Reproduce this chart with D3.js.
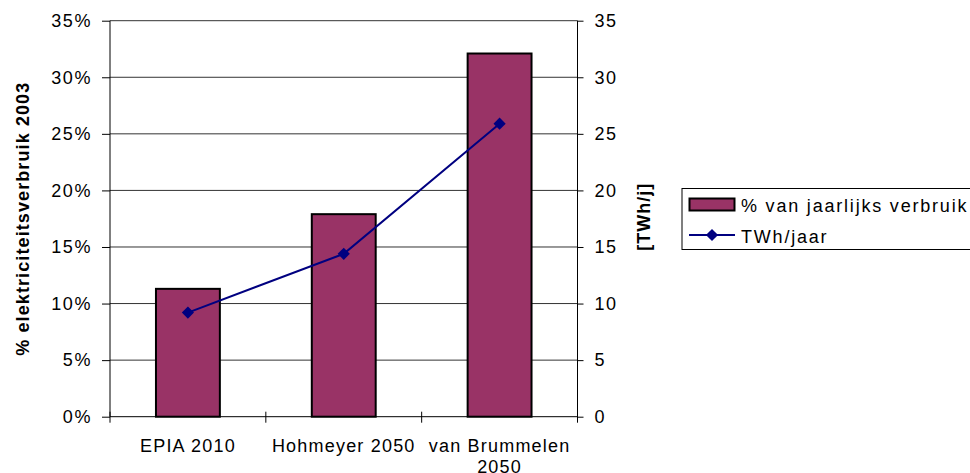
<!DOCTYPE html>
<html>
<head>
<meta charset="utf-8">
<script src="https://cdn.jsdelivr.net/npm/d3@7"></script>
<style>
  body { margin: 0; background: #fff; }
  text { font-family: "Liberation Sans", Arial, sans-serif; fill: #000; }
</style>
</head>
<body>
<div id="chart"></div>
<script>
// data
var categories = ["EPIA 2010", "Hohmeyer 2050", "van Brummelen 2050"];
var categoryLines = [["EPIA 2010"], ["Hohmeyer 2050"], ["van Brummelen", "2050"]];
var pctValues = [11.3, 17.9, 32.1];     // % van jaarlijks verbruik
var twhValues = [9.2, 14.4, 25.9];      // TWh/jaar
var pctTicks = [0, 5, 10, 15, 20, 25, 30, 35];
var twhTicks = [0, 5, 10, 15, 20, 25, 30, 35];
var legendLabels = ["% van jaarlijks verbruik", "TWh/jaar"];

var svgWidth = 970, svgHeight = 473;
// note: "top" is a read-only window property, so plot edges get their own names
var plotLeft = 110, plotRight = 577.5, plotTop = 20.7, plotBottom = 416.7;
var barColor = "#993366", lineColor = "#000080";

var svg = d3.select("#chart").append("svg")
    .attr("width", svgWidth)
    .attr("height", svgHeight);

// scales
var x = d3.scaleBand().domain(categories).range([plotLeft, plotRight]).padding(0);
var yPct = d3.scaleLinear().domain([0, 35]).range([plotBottom, plotTop]);
var yTwh = d3.scaleLinear().domain([0, 35]).range([plotBottom, plotTop]);
var barW = x.bandwidth() * 0.41;
var cx = (d, i) => x(categories[i]) + x.bandwidth() / 2;

// gridlines
svg.append("g")
  .selectAll("line")
  .data(pctTicks.filter(d => d > 0))
  .enter().append("line")
    .attr("x1", plotLeft).attr("x2", plotRight)
    .attr("y1", d => yPct(d)).attr("y2", d => yPct(d))
    .attr("stroke", "#333").attr("stroke-width", 1);

// bars
svg.append("g")
  .selectAll("rect")
  .data(pctValues)
  .enter().append("rect")
    .attr("x", (d, i) => cx(d, i) - barW / 2)
    .attr("y", d => yPct(d))
    .attr("width", barW)
    .attr("height", d => plotBottom - yPct(d))
    .attr("fill", barColor)
    .attr("stroke", "#000")
    .attr("stroke-width", 2);

// left and right axes
var axL = svg.append("g")
    .attr("transform", "translate(" + plotLeft + ",0)")
    .call(d3.axisLeft(yPct).tickValues(pctTicks).tickFormat(d => d + "%").tickSize(8).tickPadding(10));
var axR = svg.append("g")
    .attr("transform", "translate(" + plotRight + ",0)")
    .call(d3.axisRight(yTwh).tickValues(twhTicks).tickSize(6).tickPadding(11));
[axL, axR].forEach(function(ax) {
  ax.select(".domain").remove();
  ax.selectAll(".tick line").attr("stroke", "#000");
  ax.selectAll(".tick text")
    .style("font-size", "18px")
    .style("letter-spacing", "1.6px")
    .attr("fill", "#000");
  ax.append("line").attr("y1", plotTop).attr("y2", plotBottom).attr("stroke", "#000");
});

// bottom axis
var bx = svg.append("g");
bx.append("line")
  .attr("x1", plotLeft).attr("x2", plotRight)
  .attr("y1", plotBottom).attr("y2", plotBottom)
  .attr("stroke", "#000");
var bounds = categories.map(c => x(c)).concat([x(categories[categories.length - 1]) + x.bandwidth()]);
bx.selectAll("line.tk")
  .data(bounds)
  .enter().append("line")
    .attr("class", "tk")
    .attr("x1", d => d).attr("x2", d => d)
    .attr("y1", plotBottom - 5).attr("y2", plotBottom + 6)
    .attr("stroke", "#000");
var catText = bx.selectAll("text.cat")
  .data(categories)
  .enter().append("text")
    .attr("class", "cat")
    .attr("text-anchor", "middle")
    .attr("x", cx)
    .attr("y", plotBottom + 35)
    .style("font-size", "18px")
    .style("letter-spacing", "1.2px");
catText.selectAll("tspan")
  .data((d, i) => categoryLines[i])
  .enter().append("tspan")
    .attr("x", function() { return d3.select(this.parentNode).attr("x"); })
    .attr("dy", (d, i) => i === 0 ? 0 : 21)
    .text(d => d);

// line series
var line = d3.line()
  .x(cx)
  .y(d => yTwh(d));
svg.append("path")
  .datum(twhValues)
  .attr("d", line)
  .attr("fill", "none")
  .attr("stroke", lineColor)
  .attr("stroke-width", 2);
var diamond = d3.symbol().type(d3.symbolDiamond2).size(95);
svg.append("g")
  .selectAll("path")
  .data(twhValues)
  .enter().append("path")
    .attr("d", diamond)
    .attr("transform", (d, i) => "translate(" + cx(d, i) + "," + yTwh(d) + ")")
    .attr("fill", lineColor);

// axis titles
svg.append("text")
  .attr("transform", "translate(29," + ((plotTop + plotBottom) / 2) + ") rotate(-90)")
  .attr("text-anchor", "middle")
  .style("font-size", "18px")
  .style("font-weight", "bold")
  .style("letter-spacing", "1.1px")
  .text("% elektriciteitsverbruik 2003");
svg.append("text")
  .attr("transform", "translate(650," + ((plotTop + plotBottom) / 2 - 2) + ") rotate(-90)")
  .attr("text-anchor", "middle")
  .style("font-size", "18px")
  .style("font-weight", "bold")
  .style("letter-spacing", "1px")
  .text("[TWh/j]");

// legend
var lg = svg.append("g").attr("transform", "translate(682,188.5)");
lg.append("rect")
  .attr("width", 300).attr("height", 61)
  .attr("fill", "#fff").attr("stroke", "#000").attr("stroke-width", 1);
lg.append("rect")
  .attr("x", 7.5).attr("y", 10).attr("width", 45).attr("height", 12)
  .attr("fill", barColor).attr("stroke", "#000").attr("stroke-width", 2);
lg.append("line")
  .attr("x1", 7).attr("x2", 53).attr("y1", 46.5).attr("y2", 46.5)
  .attr("stroke", lineColor).attr("stroke-width", 2);
lg.append("path")
  .attr("d", diamond)
  .attr("transform", "translate(30,46.5)")
  .attr("fill", lineColor);
lg.selectAll("text")
  .data(legendLabels)
  .enter().append("text")
    .attr("x", 59)
    .attr("y", (d, i) => 23 + i * 31)
    .style("font-size", "18px")
    .style("letter-spacing", "1.8px")
    .text(d => d);
</script>
</body>
</html>
